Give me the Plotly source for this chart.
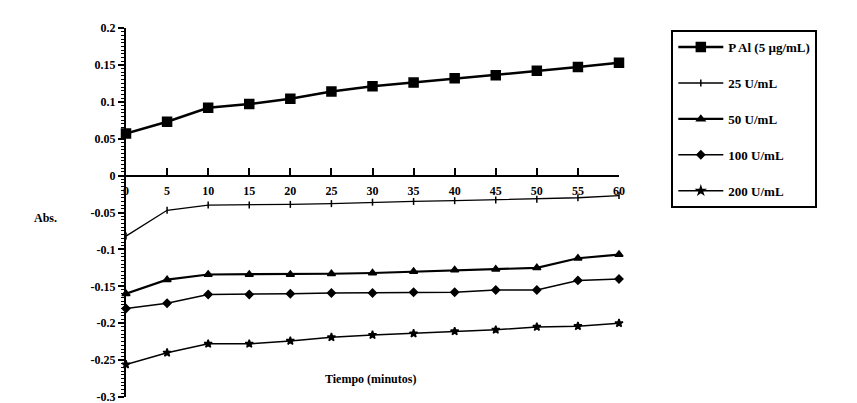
import plotly.graph_objects as go

tiempo = [0, 5, 10, 15, 20, 25, 30, 35, 40, 45, 50, 55, 60]
x_tick_labels = ["0", "5", "10", "15", "20", "25", "30", "35", "40", "45", "50", "55", "60"]
y_tick_vals = [0.2, 0.15, 0.1, 0.05, 0, -0.05, -0.1, -0.15, -0.2, -0.25, -0.3]
y_tick_labels = ["0.2", "0.15", "0.1", "0.05", "0", "-0.05", "-0.1", "-0.15", "-0.2", "-0.25", "-0.3"]

pai_5 = [0.057, 0.073, 0.092, 0.097, 0.104, 0.114, 0.121, 0.126, 0.132, 0.136, 0.142, 0.147, 0.153]
u25 = [-0.082, -0.047, -0.040, -0.040, -0.039, -0.038, -0.036, -0.035, -0.034, -0.033, -0.032, -0.030, -0.027]
u50 = [-0.160, -0.141, -0.134, -0.134, -0.134, -0.133, -0.132, -0.130, -0.128, -0.127, -0.125, -0.112, -0.107]
u100 = [-0.180, -0.173, -0.161, -0.161, -0.160, -0.159, -0.159, -0.158, -0.158, -0.155, -0.155, -0.142, -0.140]
u200 = [-0.256, -0.240, -0.228, -0.228, -0.224, -0.219, -0.216, -0.214, -0.211, -0.209, -0.205, -0.204, -0.200]

series_names = ["P Al (5 µg/mL)", "25 U/mL", "50 U/mL", "100 U/mL", "200 U/mL"]

FONT = "Liberation Serif"
styles = [
    dict(symbol="square", size=9, width=2.5),
    dict(symbol="line-ns", size=5, width=1.3),
    dict(symbol="triangle-up", size=7, width=2.2),
    dict(symbol="diamond", size=6, width=1.5),
    dict(symbol="star", size=6, width=1.5),
]

fig = go.Figure()
for i, (name, vals) in enumerate(zip(series_names, [pai_5, u25, u50, u100, u200])):
    st = styles[i]
    fig.add_trace(go.Scatter(
        x=tiempo, y=vals, name="<b>" + name + "</b>", mode="lines+markers",
        legendgroup=f"g{i}",
        line=dict(color="black", width=st["width"]),
        marker=dict(symbol=st["symbol"], size=st["size"], color="black",
                    line=dict(color="black", width=1.5)),
        cliponaxis=False,
    ))

fig.update_layout(
    width=857, height=403,
    margin=dict(l=118, r=246, t=20, b=14),
    paper_bgcolor="white", plot_bgcolor="white",
    font=dict(family=FONT, size=12, color="black"),
    showlegend=True,
    legend=dict(
        xref="container", yref="container", x=0.774, y=0.945,
        xanchor="left", yanchor="top",
        bordercolor="black", borderwidth=2, bgcolor="white",
        font=dict(family=FONT, size=13, color="black"),
        traceorder="grouped", tracegroupgap=16,
        itemwidth=45,
    ),
    xaxis=dict(
        range=[0, 60], tickvals=tiempo, ticktext=["<b>%s</b>" % t for t in x_tick_labels],
        anchor="free", position=0.6, side="bottom",
        showline=True, linecolor="black", linewidth=2,
        ticks="inside", ticklen=7, tickwidth=1.5, tickcolor="black",
        showgrid=False, zeroline=False,
        ticklabelstandoff=4,
        tickfont=dict(family=FONT, size=12, color="black"),
    ),
    yaxis=dict(
        range=[-0.3, 0.2], tickvals=y_tick_vals, ticktext=["<b>%s</b>" % t for t in y_tick_labels],
        showline=True, linecolor="black", linewidth=2,
        ticks="outside", ticklen=6, tickwidth=2, tickcolor="black",
        minor=dict(ticks="outside", dtick=0.005, ticklen=3, tickwidth=1, tickcolor="black"),
        showgrid=False, zeroline=False, automargin=False,
        ticklabeloverflow="allow",
        tickfont=dict(family=FONT, size=12, color="black"),
    ),
    annotations=[
        dict(text="<b>Abs.</b>", xref="paper", yref="paper", x=-0.19, y=0.485,
             showarrow=False, font=dict(family=FONT, size=12, color="black")),
        dict(text="<b>Tiempo (minutos)</b>", xref="paper", yref="paper", x=0.495, y=0.025,
             showarrow=False, font=dict(family=FONT, size=12, color="black")),
    ],
)

fig.write_html("out.html")
